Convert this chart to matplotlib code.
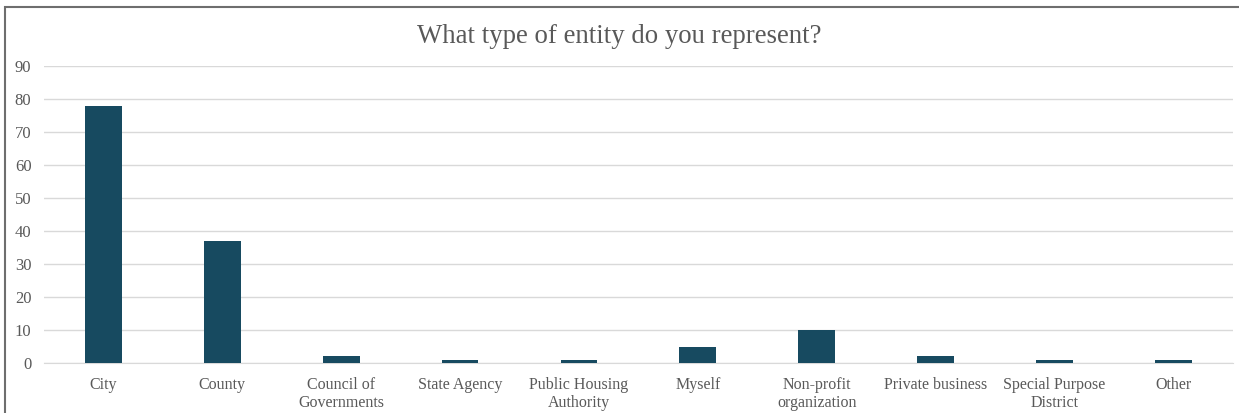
import matplotlib.pyplot as plt
from matplotlib.patches import Rectangle

categories = ['City', 'County', 'Council of\nGovernments', 'State Agency',
              'Public Housing\nAuthority', 'Myself', 'Non-profit\norganization',
              'Private business', 'Special Purpose\nDistrict', 'Other']
counts = [78, 37, 2, 1, 1, 5, 10, 2, 1, 1]
yticks = [0, 10, 20, 30, 40, 50, 60, 70, 80, 90]

plt.rcParams['font.family'] = ['Liberation Serif', 'DejaVu Serif']

fig = plt.figure(figsize=(12.39, 4.13), dpi=100)
ax = fig.add_axes([0.0355, 0.121, 0.9595, 0.719])

x = range(len(categories))
ax.bar(x, counts, width=0.31, color='#174a60', zorder=3)

ax.set_xlim(-0.5, len(categories) - 0.5)
ax.set_ylim(0, 90)
ax.set_yticks(yticks)
ax.set_xticks(list(x))
ax.set_xticklabels(categories, fontsize=11.5, color='#595959', linespacing=1.2)
ax.tick_params(axis='y', labelsize=12, labelcolor='#595959', length=0, pad=9)
ax.tick_params(axis='x', length=0, pad=10)
ax.grid(axis='y', color='#d9d9d9', linewidth=1, zorder=0)
for s in ['top', 'right', 'left']:
    ax.spines[s].set_visible(False)
ax.spines['bottom'].set_color('#d9d9d9')

fig.text(0.5, 0.912, 'What type of entity do you represent?', ha='center', va='center',
         fontsize=19.3, color='#595959')

# chart frame, only the top and left edges fall inside the image
fig.patches.append(Rectangle((5 / 1239, -0.5), 2.0, 1.5 - 7 / 413, transform=fig.transFigure,
                             fill=False, edgecolor='#6e6e6e', linewidth=1.5))

fig.savefig('out.png', dpi=100)
